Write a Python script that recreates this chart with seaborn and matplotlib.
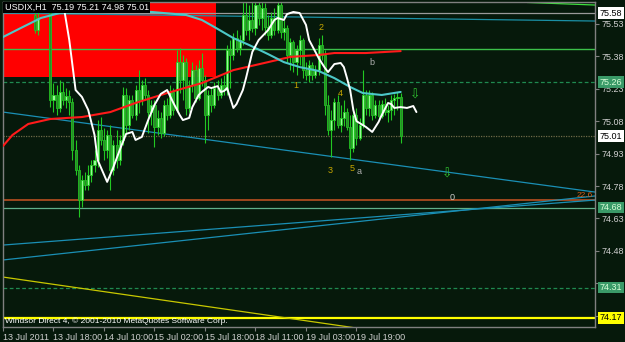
import numpy as np
import pandas as pd
import matplotlib
matplotlib.use("Agg")
import matplotlib.pyplot as plt
import matplotlib.transforms as mtransforms
import seaborn as sns

# ---------------- data ----------------
bar_start = 10
opens = [75.571, 75.501, 75.594, 75.677, 75.696, 75.686, 75.178, 75.201, 75.141, 75.215,
         75.178, 75.196, 75.169, 74.947, 74.854, 74.715, 74.808, 74.785, 74.831, 74.877,
         74.900, 75.039, 74.993, 74.947, 75.016, 74.854, 74.970, 74.900, 74.993, 75.201,
         75.062, 75.178, 75.108, 75.224, 75.178, 75.247, 75.201, 75.122, 75.155, 75.053,
         75.095, 75.025, 75.155, 75.108, 75.215, 75.132, 75.353, 75.270, 75.353, 75.141,
         75.247, 75.316, 75.187, 75.326, 75.270, 75.108, 75.201, 75.155, 75.233, 75.201,
         75.247, 75.224, 75.409, 75.386, 75.464, 75.418, 75.455, 75.571, 75.501, 75.548,
         75.511, 75.617, 75.557, 75.603, 75.515, 75.478, 75.557, 75.501, 75.617, 75.492,
         75.511, 75.386, 75.446, 75.353, 75.409, 75.455, 75.316, 75.293, 75.340, 75.293,
         75.316, 75.432, 75.386, 75.155, 75.039, 75.085, 75.169, 75.062, 75.095, 75.122,
         75.053, 74.956, 75.108, 75.002, 75.062, 75.201, 75.141, 75.201, 75.108, 75.155,
         75.104, 75.159, 75.122, 75.132, 75.178, 75.187, 75.19]
highs = [75.603, 75.585, 75.709, 75.733, 75.756, 75.709, 75.256, 75.247, 75.270, 75.261,
         75.233, 75.224, 75.187, 74.993, 74.877, 74.831, 74.845, 74.877, 74.900, 74.947,
         75.085, 75.099, 75.048, 75.039, 75.062, 74.993, 75.039, 75.016, 75.238, 75.233,
         75.201, 75.201, 75.247, 75.316, 75.270, 75.279, 75.224, 75.178, 75.178, 75.132,
         75.122, 75.178, 75.187, 75.247, 75.233, 75.409, 75.418, 75.386, 75.372, 75.270,
         75.353, 75.340, 75.363, 75.395, 75.293, 75.224, 75.233, 75.261, 75.270, 75.279,
         75.293, 75.432, 75.455, 75.488, 75.501, 75.478, 75.631, 75.640, 75.617, 75.649,
         75.640, 75.663, 75.631, 75.626, 75.571, 75.585, 75.603, 75.649, 75.640, 75.548,
         75.525, 75.464, 75.455, 75.432, 75.478, 75.464, 75.353, 75.363, 75.353, 75.340,
         75.464, 75.478, 75.409, 75.201, 75.132, 75.187, 75.201, 75.155, 75.178, 75.141,
         75.108, 75.132, 75.141, 75.095, 75.316, 75.224, 75.224, 75.215, 75.178, 75.178,
         75.178, 75.187, 75.155, 75.201, 75.206, 75.215, 75.21]
lows = [75.488, 75.478, 75.585, 75.649, 75.663, 75.145, 75.122, 75.108, 75.122, 75.155,
        75.141, 75.108, 74.900, 74.831, 74.637, 74.683, 74.762, 74.762, 74.799, 74.845,
        74.868, 74.970, 74.900, 74.910, 74.762, 74.831, 74.863, 74.877, 74.970, 75.025,
        75.039, 75.095, 75.085, 75.118, 75.155, 75.178, 75.025, 75.062, 74.960, 75.016,
        75.002, 75.011, 75.085, 75.095, 75.108, 75.122, 75.210, 75.178, 75.108, 75.122,
        75.215, 75.169, 75.178, 75.242, 74.979, 75.039, 75.122, 75.141, 75.178, 75.187,
        75.201, 75.201, 75.233, 75.363, 75.400, 75.386, 75.432, 75.478, 75.455, 75.492,
        75.478, 75.525, 75.501, 75.478, 75.455, 75.464, 75.478, 75.488, 75.464, 75.455,
        75.353, 75.316, 75.307, 75.293, 75.340, 75.279, 75.270, 75.261, 75.270, 75.279,
        75.293, 75.363, 75.108, 75.016, 74.914, 75.039, 75.048, 75.030, 75.058, 75.039,
        74.900, 74.937, 74.970, 74.993, 75.048, 75.108, 75.104, 75.085, 75.095, 75.085,
        75.095, 75.108, 75.076, 75.085, 75.108, 75.132, 74.98]
closes = [75.501, 75.557, 75.677, 75.696, 75.686, 75.178, 75.201, 75.141, 75.215, 75.178,
          75.196, 75.169, 74.947, 74.854, 74.715, 74.808, 74.785, 74.831, 74.877, 74.900,
          75.039, 74.993, 74.947, 75.016, 74.854, 74.970, 74.900, 74.993, 75.201, 75.062,
          75.178, 75.108, 75.224, 75.178, 75.247, 75.201, 75.122, 75.155, 75.053, 75.095,
          75.025, 75.155, 75.108, 75.215, 75.132, 75.353, 75.270, 75.353, 75.141, 75.247,
          75.316, 75.187, 75.326, 75.270, 75.108, 75.201, 75.155, 75.233, 75.201, 75.247,
          75.224, 75.409, 75.386, 75.464, 75.418, 75.455, 75.571, 75.501, 75.548, 75.511,
          75.617, 75.557, 75.603, 75.515, 75.478, 75.557, 75.501, 75.617, 75.492, 75.511,
          75.386, 75.446, 75.353, 75.409, 75.455, 75.316, 75.293, 75.340, 75.293, 75.316,
          75.432, 75.386, 75.155, 75.039, 75.085, 75.169, 75.062, 75.095, 75.122, 75.053,
          74.956, 75.108, 75.002, 75.062, 75.201, 75.141, 75.201, 75.108, 75.155, 75.104,
          75.159, 75.122, 75.132, 75.178, 75.187, 75.192, 75.01]

white_bar = [17, 19, 21, 23, 25, 27, 29, 30, 33, 35, 37, 39, 41, 42, 44, 46, 48, 50, 52, 54,
             56, 57, 59, 60, 62, 63, 65, 66, 68, 69, 70, 71, 73, 74, 76, 77, 79, 81, 84, 86,
             87, 89, 90, 92, 94, 96, 97, 99, 100, 102, 103, 105, 107, 108, 109, 110, 111, 112,
             113, 115, 117, 119, 120, 122, 123, 124, 126, 128, 130, 131]
white_val = [75.640, 75.631, 75.455, 75.224, 75.192, 75.132, 75.016, 74.900, 74.799, 74.868,
             74.947, 75.021, 75.030, 74.993, 75.007, 75.085, 75.155, 75.206, 75.224, 75.164,
             75.108, 75.085, 75.095, 75.145, 75.201, 75.215, 75.238, 75.233, 75.242, 75.215,
             75.219, 75.233, 75.141, 75.159, 75.224, 75.279, 75.400, 75.455, 75.501, 75.548,
             75.557, 75.548, 75.575, 75.585, 75.580, 75.525, 75.455, 75.400, 75.372, 75.326,
             75.307, 75.344, 75.349, 75.330, 75.279, 75.224, 75.132, 75.080, 75.071, 75.053,
             75.030, 75.076, 75.108, 75.164, 75.159, 75.141, 75.145, 75.141, 75.150, 75.122]

red_bar = [0, 3, 8, 15, 25, 34, 42, 52, 63, 73, 84, 91, 100, 105, 115, 126]
red_val = [74.965, 75.016, 75.067, 75.090, 75.099, 75.122, 75.164, 75.210, 75.256, 75.316,
           75.353, 75.377, 75.386, 75.395, 75.395, 75.404]

cyan_bar = [0, 5, 12, 18, 31, 47, 58, 63, 67, 73, 78, 84, 89, 94, 100, 105, 110, 114, 120, 126]
cyan_val = [75.469, 75.506, 75.557, 75.580, 75.585, 75.585, 75.571, 75.548, 75.515, 75.464,
            75.432, 75.390, 75.353, 75.330, 75.312, 75.279, 75.238, 75.210, 75.201, 75.215]

# horizontal levels
level_values = [75.58, 75.414, 75.26, 75.01, 74.715, 74.68, 74.31, 74.17]
level_colors = ["#9a9a9a", "#3cc04a", "#1f8a50", "#6e6a48", "#a0481e", "#5fb08a", "#1f8a50", "#ffff00"]
level_styles = ["-", "-", (0, (3, 2)), (0, (1, 1)), "-", "-", (0, (3, 2)), "-"]
level_widths = [0.9, 1.0, 0.9, 0.9, 1.4, 0.9, 0.9, 1.6]

# trend lines: (bar0, price0, bar1, price1)
trend_start_bar = [0, 0, 0, 0, 0, 166]
trend_start_val = [75.122, 74.507, 74.438, 74.359, 75.580, 75.629]
trend_end_bar = [187.6, 187.6, 187.6, 187.6, 187.6, 187.6]
trend_end_val = [74.752, 74.715, 74.734, 73.964, 75.543, 75.617]
trend_colors = ["#1a8fb5", "#1a8fb5", "#1a8fb5", "#c8c800", "#1a8fa5", "#3ee03e"]

# red rectangle object
rect_bars = [0, 67.5]
rect_low, rect_high = 75.284, 75.70

# time axis
time_ticks = [0, 16, 32, 48, 64, 80, 96, 112]
time_labels = ["13 Jul 2011", "13 Jul 18:00", "14 Jul 10:00", "15 Jul 02:00",
               "15 Jul 18:00", "18 Jul 11:00", "19 Jul 03:00", "19 Jul 19:00"]
price_ticks = [75.53, 75.38, 75.23, 75.08, 74.93, 74.78, 74.63, 74.48, 74.33, 74.18]
price_tick_labels = ["75.53", "75.38", "75.23", "75.08", "74.93", "74.78", "74.63", "74.48", "", ""]

# boxed price labels
box_values = [75.58, 75.26, 75.01, 74.68, 74.31, 74.17]
box_labels = ["75.58", "75.26", "75.01", "74.68", "74.31", "74.17"]
box_faces = ["#ffffff", "#3a9a68", "#ffffff", "#3a9a68", "#3a9a68", "#ffff00"]
box_text = ["#000000", "#d8ffd8", "#000000", "#d8ffd8", "#d8ffd8", "#000000"]

# wave labels
wave_text = ["2", "1", "4", "3", "5", "b", "a", "0"]
wave_bar = [100.8, 92.8, 106.8, 103.6, 110.6, 116.9, 112.8, 142.3]
wave_val = [75.515, 75.247, 75.210, 74.854, 74.863, 75.353, 74.845, 74.725]
wave_color = ["#c8a800", "#c8a800", "#c8a800", "#c8a800", "#c8a800", "#b0b0b0", "#b0b0b0", "#d0d0d0"]

arrow_bar = [130.5, 140.7]
arrow_val = [75.201, 74.836]

fib_label = "22.6"
fib_bar, fib_val = 187.0, 74.734

# ---------------- plot ----------------
BG = "#06190b"
sns.set_theme(style="dark", rc={"axes.facecolor": BG, "figure.facecolor": BG,
                                "axes.edgecolor": "#808080", "grid.color": BG})
plt.rcParams["font.family"] = ["Liberation Sans", "DejaVu Sans"]

fig = plt.figure(figsize=(6.25, 3.42), dpi=100, facecolor=BG)
ax = fig.add_axes([3 / 625, 1 - 327 / 342, 592 / 625, 325 / 342])
ax.set_facecolor(BG)
ax.grid(False)

# red rectangle
ax.fill_between(rect_bars, rect_low, rect_high, color="#ff0000", zorder=0.5, linewidth=0)

# horizontal levels
for v, c, s, w in zip(level_values, level_colors, level_styles, level_widths):
    ax.axhline(v, color=c, linestyle=s, linewidth=w, zorder=1)

# trend lines
for b0, v0, b1, v1, c in zip(trend_start_bar, trend_start_val, trend_end_bar, trend_end_val, trend_colors):
    ax.plot([b0, b1], [v0, v1], color=c, linewidth=0.9, zorder=1.5, solid_capstyle="butt")

# candles
n = len(opens)
idx = np.arange(bar_start, bar_start + n)
o = np.array(opens); h = np.array(highs); l = np.array(lows); c = np.array(closes)
bull = c >= o
ax.vlines(idx, l, h, color="#22c822", linewidth=0.8, zorder=2)
ax.bar(idx[bull], (c - o)[bull], bottom=o[bull], width=0.65, color="#98f898",
       edgecolor="#22cc22", linewidth=0.6, zorder=2.1)
ax.bar(idx[~bull], (o - c)[~bull], bottom=c[~bull], width=0.65, color="#2a8a2a",
       edgecolor="#22c022", linewidth=0.6, zorder=2.1)

# moving averages and white line (seaborn)
df_red = pd.DataFrame({"bar": red_bar, "v": red_val})
df_cyan = pd.DataFrame({"bar": cyan_bar, "v": cyan_val})
df_white = pd.DataFrame({"bar": white_bar, "v": white_val})
sns.lineplot(data=df_red, x="bar", y="v", ax=ax, color="#ff1a1a", linewidth=1.5,
             estimator=None, sort=False, zorder=3)
sns.lineplot(data=df_cyan, x="bar", y="v", ax=ax, color="#4cc8c8", linewidth=1.5,
             estimator=None, sort=False, zorder=3)
sns.lineplot(data=df_white, x="bar", y="v", ax=ax, color="#ffffff", linewidth=1.4,
             estimator=None, sort=False, zorder=4)

ax.set_xlim(0, 187.58)
ax.set_ylim(74.128, 75.631)
ax.set_xlabel("")
ax.set_ylabel("")

# axes styling
for sp in ax.spines.values():
    sp.set_color("#808080")
    sp.set_linewidth(1.0)

ax.set_xticks(time_ticks)
ax.set_xticklabels(time_labels, ha="left")
ax.tick_params(axis="x", colors="#808080", labelcolor="#d0d0d0", length=3, width=0.8,
               direction="out", labelsize=6.5, pad=1.5, bottom=True)
ax.yaxis.tick_right()
ax.set_yticks(price_ticks)
ax.set_yticklabels(price_tick_labels)
ax.tick_params(axis="y", colors="#808080", labelcolor="#d0d0d0", length=3, width=0.8,
               direction="out", labelsize=6.5, pad=2, right=True, left=False)

# boxed price labels
trans = mtransforms.blended_transform_factory(ax.transAxes, ax.transData)
for v, t, fc, tc in zip(box_values, box_labels, box_faces, box_text):
    ax.text(1.008, v, t, transform=trans, ha="left", va="center", fontsize=6.5, color=tc,
            zorder=10, clip_on=False,
            bbox=dict(boxstyle="square,pad=0.15", facecolor=fc, edgecolor="none"))

# wave labels
for t, b, v, col in zip(wave_text, wave_bar, wave_val, wave_color):
    ax.text(b, v, t, color=col, fontsize=6.5, ha="center", va="center", zorder=6)
for b, v in zip(arrow_bar, arrow_val):
    ax.text(b, v, "\u21e9", color="#30c030", fontsize=9, ha="center", va="center",
            zorder=6, family=["DejaVu Sans"])
ax.text(fib_bar, fib_val, fib_label, color="#d05a1a", fontsize=6, ha="right", va="center", zorder=6)

# header and footer
ax.text(0.003, 0.997, "USDIX,H1  75.19 75.21 74.98 75.01", transform=ax.transAxes,
        ha="left", va="top", fontsize=6.5, color="#ffffff", zorder=10,
        bbox=dict(boxstyle="square,pad=0.15", facecolor="#000000", edgecolor="none"))
ax.text(0.004, 0.018, "Windsor Direct 4, \u00a9 2001-2010 MetaQuotes Software Corp.",
        transform=ax.transAxes, ha="left", va="center", fontsize=6, color="#ffffff", zorder=10)

fig.savefig("out.png", dpi=100, facecolor=BG)
